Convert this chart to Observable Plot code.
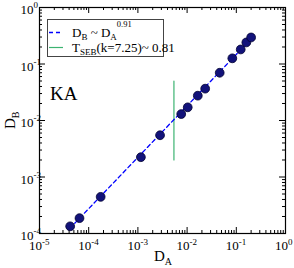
<!DOCTYPE html>
<html><head><meta charset="utf-8">
<script src="https://cdn.jsdelivr.net/npm/d3@7"></script>
<script src="https://cdn.jsdelivr.net/npm/@observablehq/plot@0.6"></script>
<style>body{margin:0;background:#fff} svg{display:block}</style>
</head><body><div id="chart"></div>
<script>
// data
const dA = [4.2e-5, 6.5e-5, 1.75e-4, 1.15e-3, 2.82e-3, 7.6e-3, 1.03e-2, 1.65e-2, 2.33e-2, 4.6e-2, 8.3e-2, 0.123, 0.160, 0.200];
const dB = [1.34e-4, 1.87e-4, 4.45e-4, 2.24e-3, 5.48e-3, 1.30e-2, 1.71e-2, 2.75e-2, 3.66e-2, 7.0e-2, 0.126, 0.181, 0.241, 0.295];
const fitExponent = 0.91;
const fitPrefactor = 1.2;
const fitRange = [5.2e-5, 0.21];
const sebX = 0.0054;
const sebRange = [0.002, 0.05];
const xDecades = [-5, -4, -3, -2, -1, 0];
const yDecades = [-4, -3, -2, -1, 0];
const panelLabel = "KA";

const serif = "'Liberation Serif', 'Times New Roman', serif";
const W = 294, H = 268, mT = 7, mB = 35, mL = 39, mR = 9;
const frameH = H - mT - mB, frameW = W - mL - mR;

const points = dA.map((a, i) => ({a, b: dB[i]}));
const fit = fitRange.map(a => ({a, b: fitPrefactor * Math.pow(a, fitExponent)}));
const seb = sebRange.map(b => ({a: sebX, b}));

const minors = (decs) => {
  const out = [];
  for (let k = decs[0]; k < decs[decs.length - 1]; k++)
    for (let m = 2; m <= 9; m++) out.push(m * Math.pow(10, k));
  return out;
};
const xMaj = xDecades.map(d => Math.pow(10, d));
const yMaj = yDecades.map(d => Math.pow(10, d));
const xMin = minors(xDecades), yMin = minors(yDecades);

const tk = {stroke: "black", strokeWidth: 1};
const chart = Plot.plot({
  width: W, height: H,
  marginTop: mT, marginBottom: mB, marginLeft: mL, marginRight: mR,
  style: {fontFamily: serif, background: "white", overflow: "visible"},
  x: {type: "log", domain: [1e-5, 1], axis: null},
  y: {type: "log", domain: [1e-4, 1], axis: null},
  marks: [
    // ticks (inward on all sides)
    Plot.tickX(xMaj, {x: d => d, insetTop: frameH - 6, ...tk}),
    Plot.tickX(xMaj, {x: d => d, insetBottom: frameH - 6, ...tk}),
    Plot.tickX(xMin, {x: d => d, insetTop: frameH - 3, ...tk}),
    Plot.tickX(xMin, {x: d => d, insetBottom: frameH - 3, ...tk}),
    Plot.tickY(yMaj, {y: d => d, insetRight: frameW - 6, ...tk}),
    Plot.tickY(yMaj, {y: d => d, insetLeft: frameW - 6, ...tk}),
    Plot.tickY(yMin, {y: d => d, insetRight: frameW - 3, ...tk}),
    Plot.tickY(yMin, {y: d => d, insetLeft: frameW - 3, ...tk}),
    // tick labels
    Plot.text(xDecades, {x: d => Math.pow(10, d), text: () => "10", frameAnchor: "bottom", textAnchor: "end", lineAnchor: "bottom", dx: 2.5, dy: 16.5, fontSize: 13}),
    Plot.text(xDecades, {x: d => Math.pow(10, d), text: d => String(d), frameAnchor: "bottom", textAnchor: "start", lineAnchor: "bottom", dx: 2.5, dy: 11, fontSize: 9}),
    Plot.text(yDecades, {y: d => Math.pow(10, d), text: () => "10", frameAnchor: "left", textAnchor: "end", lineAnchor: "bottom", dx: -6, dy: 6.5, fontSize: 13}),
    Plot.text(yDecades, {y: d => Math.pow(10, d), text: d => String(d), frameAnchor: "left", textAnchor: "start", lineAnchor: "bottom", dx: -6, dy: 0.5, fontSize: 9}),
    // data
    Plot.line(seb, {x: "a", y: "b", stroke: "#3cb371", strokeWidth: 1.2}),
    Plot.line(fit, {x: "a", y: "b", stroke: "#0000ff", strokeWidth: 1.3, strokeDasharray: "4,3"}),
    Plot.dot(points, {x: "a", y: "b", r: 4.4, fill: "#12127a", stroke: "#000030", strokeWidth: 0.8}),
    Plot.frame({stroke: "black", strokeWidth: 1.2})
  ]
});
document.getElementById("chart").append(chart);

// annotations with sub/superscripts
const svg = d3.select(chart);
function rich(parent, x, y, pieces, attrs = {}) {
  const t = parent.append("text").attr("x", x).attr("y", y)
    .attr("font-family", serif).attr("fill", "black").attr("text-anchor", "start");
  for (const [k, v] of Object.entries(attrs)) t.attr(k, v);
  for (const p of pieces) {
    const s = t.append("tspan").attr("font-size", p.size).attr("text-anchor", "start").text(p.t);
    if (p.y !== undefined) s.attr("y", p.y);
  }
  return t;
}
const lg = svg.append("g");
lg.append("rect").attr("x", 47.5).attr("y", 19.5).attr("width", 116).attr("height", 37)
  .attr("fill", "white").attr("stroke", "#444").attr("stroke-width", 1);
lg.append("line").attr("x1", 49).attr("x2", 63).attr("y1", 32.5).attr("y2", 32.5)
  .attr("stroke", "#0000ff").attr("stroke-width", 1.3).attr("stroke-dasharray", "4,3");
lg.append("line").attr("x1", 49).attr("x2", 63).attr("y1", 47.5).attr("y2", 47.5)
  .attr("stroke", "#3cb371").attr("stroke-width", 1.2);
rich(lg, 72, 37, [
  {t: "D", size: 13, y: 37}, {t: "B", size: 9, y: 40}, {t: " ~ D", size: 13, y: 37},
  {t: "A", size: 9, y: 40}, {t: "0.91", size: 8.5, y: 27}
]);
rich(lg, 72, 51.5, [
  {t: "T", size: 13, y: 51.5}, {t: "SEB", size: 9, y: 54.5}, {t: "(k=7.25)~ 0.81", size: 13, y: 51.5}
]);
rich(svg, 50, 99.5, [{t: panelLabel, size: 19}]);
rich(svg, 154, 261, [{t: "D", size: 15, y: 261}, {t: "A", size: 10, y: 265}]);
rich(svg, 0, 0, [{t: "D", size: 15, y: 0}, {t: "B", size: 10, y: 4}],
  {transform: "translate(15,129) rotate(-90)"});
</script></body></html>
